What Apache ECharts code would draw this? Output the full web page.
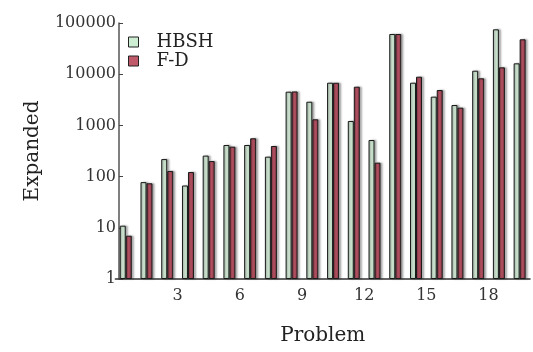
<!DOCTYPE html>
<html>
<head>
<meta charset="utf-8">
<script src="https://cdn.jsdelivr.net/npm/echarts@6/dist/echarts.min.js"></script>
<style>
	html, body { margin: 0; padding: 0; background: #fff; }
	#chart { width: 533px; height: 352px; }
</style>
</head>
<body>
<div id="chart"></div>
<script>
	// 数据
	var problems = ['1', '2', '3', '4', '5', '6', '7', '8', '9', '10',
		'11', '12', '13', '14', '15', '16', '17', '18', '19', '20'];
	var hbsh = [11, 78, 220, 67, 257, 414, 414, 245, 4550, 2900,
		6820, 1220, 518, 61000, 6820, 3640, 2500, 11700, 75200, 16300];
	var fd = [7, 74, 129, 123, 201, 384, 560, 396, 4600, 1315,
		6800, 5700, 187, 61000, 8930, 4910, 2220, 8310, 13600, 48000];
	var problemTicks = [3, 6, 9, 12, 15, 18];
	var yTicks = [1, 10, 100, 1000, 10000, 100000];

	var serif = 'DejaVu Serif';

	function barGrad(c0, c1, c2) {
		return new echarts.graphic.LinearGradient(0, 0, 1, 0, [
			{ offset: 0, color: c0 },
			{ offset: 0.45, color: c1 },
			{ offset: 1, color: c2 }
		]);
	}

	var myChart = echarts.init(document.getElementById('chart'));

	var option = {
		animation: false,
		backgroundColor: '#fff',
		legend: {
			orient: 'vertical',
			left: 128,
			top: 33,
			padding: 0,
			itemGap: 1,
			itemWidth: 10,
			itemHeight: 10,
			icon: 'rect',
			textStyle: {
				fontFamily: serif,
				fontSize: 18,
				color: '#222',
				padding: [0, 0, 0, 13]
			},
			data: [
				{ name: 'HBSH', itemStyle: { color: '#cdeed3', borderColor: '#222', borderWidth: 1 } },
				{ name: 'F-D', itemStyle: { color: '#c05a6b', borderColor: '#222', borderWidth: 1 } }
			]
		},
		grid: {
			left: 115.4,
			right: -6.4,
			top: 23,
			bottom: 73
		},
		xAxis: [{
			type: 'category',
			data: problems,
			name: 'Problem',
			nameLocation: 'middle',
			nameGap: 47,
			nameTextStyle: { fontFamily: serif, fontSize: 20, color: '#222' },
			axisLine: { lineStyle: { color: '#333', width: 1.5 } },
			axisTick: { inside: true, length: 4, interval: 0, lineStyle: { color: '#333' } },
			axisLabel: { show: false }
		}, {
			type: 'value',
			min: 0,
			max: 20,
			interval: 3,
			position: 'bottom',
			axisLine: { show: false },
			axisTick: { show: false },
			splitLine: { show: false },
			axisLabel: {
				margin: 9,
				fontFamily: serif,
				fontSize: 16,
				color: '#333',
				formatter: function (v) {
					return problemTicks.indexOf(v) >= 0 ? String(v) : '';
				}
			}
		}],
		yAxis: {
			type: 'log',
			logBase: 10,
			min: 1,
			max: 100000,
			offset: -3.6,
			name: 'Expanded',
			nameLocation: 'middle',
			nameGap: 76,
			nameTextStyle: { fontFamily: serif, fontSize: 20, color: '#222' },
			axisLine: { show: true, lineStyle: { color: '#555', width: 1.5 } },
			axisTick: { show: true, inside: true, length: 4, lineStyle: { color: '#444' } },
			splitLine: { show: false },
			axisLabel: {
				margin: 3,
				fontFamily: serif,
				fontSize: 16,
				color: '#333',
				formatter: function (v) {
					var r = Math.round(v);
					return yTicks.indexOf(r) >= 0 ? String(r) : '';
				}
			}
		},
		series: [{
			name: 'HBSH',
			type: 'bar',
			barWidth: 6,
			barGap: '0%',
			data: hbsh,
			itemStyle: {
				color: barGrad('#86a08c', '#e4f8e6', '#a9cdb0'),
				borderColor: '#1a1a1a',
				borderWidth: 1,
				shadowColor: 'rgba(0,0,0,0.3)',
				shadowOffsetX: 2,
				shadowBlur: 2
			}
		}, {
			name: 'F-D',
			type: 'bar',
			barWidth: 6,
			barGap: '0%',
			data: fd,
			itemStyle: {
				color: barGrad('#62222e', '#c85c6e', '#7e3240'),
				borderColor: '#1a1a1a',
				borderWidth: 1,
				shadowColor: 'rgba(0,0,0,0.3)',
				shadowOffsetX: 2,
				shadowBlur: 2
			}
		}]
	};

	myChart.setOption(option);
</script>
</body>
</html>
